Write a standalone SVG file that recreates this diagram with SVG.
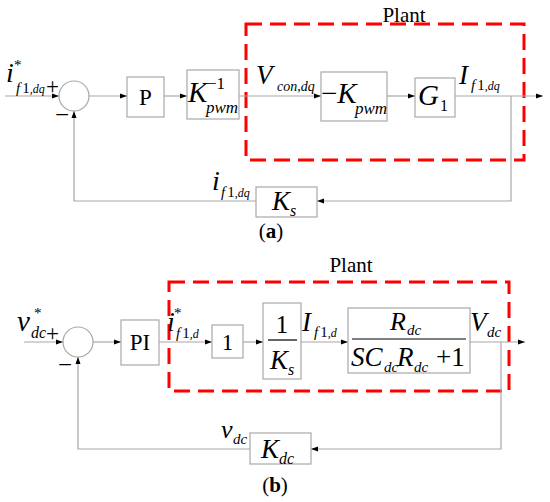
<svg xmlns="http://www.w3.org/2000/svg" width="550" height="502" viewBox="0 0 550 502">
<defs>
<marker id="ah" markerWidth="7" markerHeight="6" refX="7" refY="3" orient="auto" markerUnits="userSpaceOnUse">
<path d="M0,0.5 L7,3 L0,5.5 z" fill="#000"/>
</marker>
<style>
.box{fill:#fff;stroke:#a8a8a8;stroke-width:1.2}
.sum{fill:#fff;stroke:#a8a8a8;stroke-width:1.2}
.ln{fill:none;stroke:#a8a8a8;stroke-width:1.2}
.plant{fill:none;stroke:#ff0000;stroke-width:3;stroke-dasharray:16 8}
.fr{stroke:#000;stroke-width:1.2}
text{font-family:"Liberation Serif","Times New Roman",serif;fill:#000}
.it{font-style:italic}
</style>
</defs>
<rect width="550" height="502" fill="#fff"/>

<!-- (a) -->
<rect class="plant" x="246" y="24" width="278" height="136"/>
<text x="404" y="22" font-size="21" text-anchor="middle">Plant</text>

<g id="connectors-a">
<path class="ln" d="M5,96 H59" marker-end="url(#ah)"/>
<path class="ln" d="M89,96 H127" marker-end="url(#ah)"/>
<path class="ln" d="M164,96 H187" marker-end="url(#ah)"/>
<path class="ln" d="M239,96 H321" marker-end="url(#ah)"/>
<path class="ln" d="M387,96 H415" marker-end="url(#ah)"/>
<path class="ln" d="M455,96 H543" marker-end="url(#ah)"/>
<path class="ln" d="M511,96 V201 H317" marker-end="url(#ah)"/>
<path class="ln" d="M256,201 H74 V111" marker-end="url(#ah)"/>
</g>

<g id="input-a">
<text x="6" y="82" font-size="28" class="it">i</text>
<text x="14" y="70" font-size="15">*</text>
<text x="16" y="93" font-size="15"><tspan class="it">f</tspan><tspan dx="2">1</tspan><tspan class="it" font-size="12">,dq</tspan></text>
<text x="46" y="94" font-size="23">+</text>
<text x="55" y="123" font-size="25">−</text>
</g>
<g id="sum-a"><circle class="sum" cx="74" cy="96" r="15"/></g>
<g id="P"><rect class="box" x="127" y="77" width="37" height="40"/><text x="145.5" y="105" font-size="23" text-anchor="middle">P</text></g>
<g id="Kpwm-inv"><rect class="box" x="187" y="70" width="52" height="49"/>
<text x="188" y="102" font-size="29" class="it">K</text>
<text x="207" y="89" font-size="17">−1</text>
<text x="206" y="113" font-size="17" class="it">pwm</text></g>
<g id="Vcon-label">
<text x="256" y="84" font-size="27" class="it">V</text>
<text x="277" y="91" font-size="14" class="it">con,dq</text></g>
<g id="neg-Kpwm"><rect class="box" x="321" y="72" width="66" height="49"/>
<text x="321" y="103" font-size="29">−<tspan class="it">K</tspan></text>
<text x="355" y="114" font-size="17" class="it">pwm</text></g>
<g id="G1"><rect class="box" x="415" y="78" width="40" height="39"/>
<text x="418" y="105" font-size="29" class="it">G</text>
<text x="440" y="111" font-size="16">1</text></g>
<g id="If1dq-label">
<text x="459" y="84" font-size="27" class="it">I</text>
<text x="471" y="90" font-size="15"><tspan class="it">f</tspan><tspan dx="2">1</tspan><tspan class="it" font-size="12">,dq</tspan></text></g>
<g id="if1dq-fb">
<text x="212" y="190" font-size="28" class="it">i</text>
<text x="221" y="197" font-size="15"><tspan class="it">f</tspan><tspan dx="2">1</tspan><tspan class="it" font-size="12">,dq</tspan></text></g>
<g id="Ks"><rect class="box" x="256" y="187" width="61" height="30"/>
<text x="272" y="210" font-size="27" class="it">K</text>
<text x="290" y="216" font-size="16" class="it">s</text></g>
<text x="271" y="238" font-size="21" text-anchor="middle">(<tspan font-weight="bold">a</tspan>)</text>

<!-- (b) -->
<rect class="plant" x="169" y="282" width="340" height="109"/>
<text x="351" y="272" font-size="21" text-anchor="middle">Plant</text>

<g id="connectors-b">
<path class="ln" d="M24,342 H63" marker-end="url(#ah)"/>
<path class="ln" d="M93,342 H121" marker-end="url(#ah)"/>
<path class="ln" d="M159,342 H212" marker-end="url(#ah)"/>
<path class="ln" d="M243,342 H263" marker-end="url(#ah)"/>
<path class="ln" d="M301,342 H348" marker-end="url(#ah)"/>
<path class="ln" d="M470,342 H525" marker-end="url(#ah)"/>
<path class="ln" d="M501,342 V449 H311" marker-end="url(#ah)"/>
<path class="ln" d="M250,449 H78 V357" marker-end="url(#ah)"/>
</g>

<g id="input-b">
<text x="17" y="331" font-size="29" class="it">v</text>
<text x="34" y="318" font-size="15" fill="#555">*</text>
<text x="31" y="338" font-size="16" class="it">dc</text>
<text x="46" y="341" font-size="23">+</text>
<text x="58" y="373" font-size="25">−</text>
</g>
<g id="sum-b"><circle class="sum" cx="78" cy="342" r="15"/></g>
<g id="PI"><rect class="box" x="121" y="320" width="38" height="45"/><text x="140" y="350" font-size="23" text-anchor="middle">PI</text></g>
<g id="if1d-label">
<text x="167" y="331" font-size="28" class="it">i</text>
<text x="174" y="318" font-size="15">*</text>
<text x="176" y="338" font-size="15"><tspan class="it">f</tspan><tspan dx="2">1</tspan><tspan class="it" font-size="12">,d</tspan></text></g>
<g id="one"><rect class="box" x="212" y="325" width="31" height="33"/><text x="227.5" y="350" font-size="23" text-anchor="middle">1</text></g>
<g id="inv-Ks"><rect class="box" x="263" y="303" width="38" height="76"/>
<text x="282" y="333" font-size="25" text-anchor="middle">1</text>
<line class="fr" x1="268" y1="340" x2="297" y2="340"/>
<text x="270" y="369" font-size="27" class="it">K</text>
<text x="288" y="375" font-size="16" class="it">s</text></g>
<g id="If1d-label">
<text x="302" y="331" font-size="27" class="it">I</text>
<text x="314" y="337" font-size="15"><tspan class="it">f</tspan><tspan dx="2">1</tspan><tspan class="it" font-size="12">,d</tspan></text></g>
<g id="Rdc-tf"><rect class="box" x="348" y="308" width="122" height="65"/>
<text x="390" y="330" font-size="26" class="it">R</text>
<text x="407" y="335" font-size="15" class="it">dc</text>
<line class="fr" x1="352" y1="339" x2="466" y2="339"/>
<text x="351" y="366" font-size="27" class="it">SC</text>
<text x="384" y="372" font-size="15" class="it">dc</text>
<text x="397" y="366" font-size="27" class="it">R</text>
<text x="414" y="372" font-size="15" class="it">dc</text>
<text x="436" y="366" font-size="27">+1</text></g>
<g id="Vdc-label">
<text x="470" y="331" font-size="27" class="it">V</text>
<text x="487" y="337" font-size="15" class="it">dc</text></g>
<g id="vdc-fb">
<text x="221" y="438" font-size="26" class="it">v</text>
<text x="233" y="444" font-size="15" class="it">dc</text></g>
<g id="Kdc"><rect class="box" x="250" y="433" width="61" height="31"/>
<text x="261" y="458" font-size="27" class="it">K</text>
<text x="279" y="464" font-size="16" class="it">dc</text></g>
<text x="275" y="492" font-size="21" text-anchor="middle">(<tspan font-weight="bold">b</tspan>)</text>
</svg>
